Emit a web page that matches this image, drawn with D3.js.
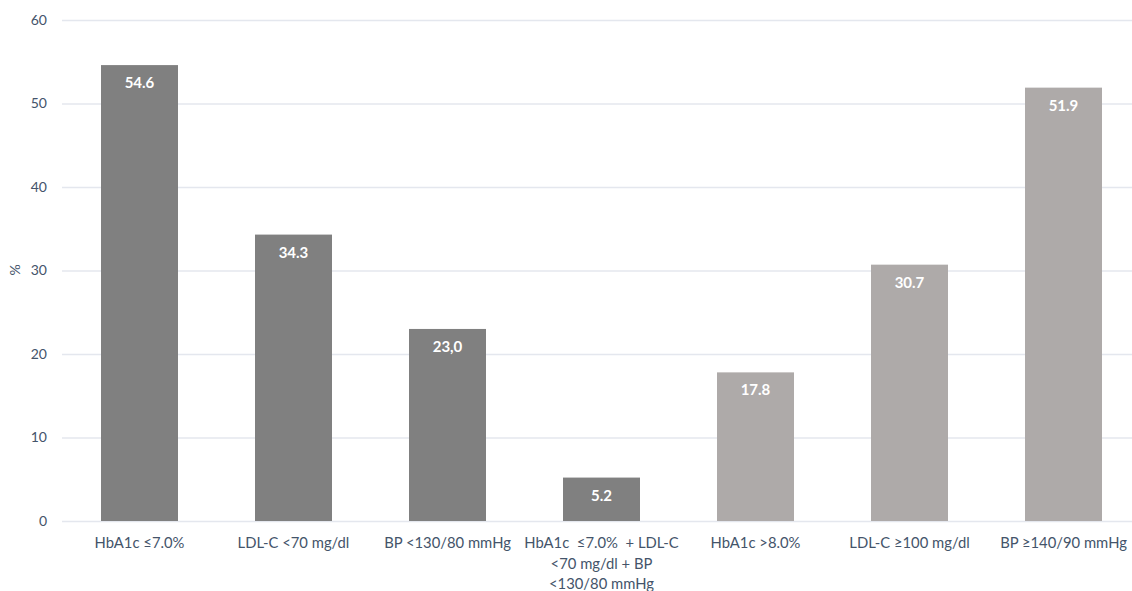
<!DOCTYPE html>
<html><head><meta charset="utf-8">
<script src="https://cdn.jsdelivr.net/npm/d3@7"></script>
<style>body{margin:0;background:#fff;}svg{display:block;font-family:Lato,"Open Sans",sans-serif;}</style>
</head><body><svg id="c" width="1132" height="591"></svg>
<script>
const categories = [
  ["HbA1c ≤7.0%"],
  ["LDL-C <70 mg/dl"],
  ["BP <130/80 mmHg"],
  ["HbA1c  ≤7.0%  + LDL-C", "<70 mg/dl + BP", "<130/80 mmHg"],
  ["HbA1c >8.0%"],
  ["LDL-C ≥100 mg/dl"],
  ["BP ≥140/90 mmHg"]
];
const values = [54.6, 34.3, 23.0, 5.2, 17.8, 30.7, 51.9];
const valueLabels = ["54.6", "34.3", "23,0", "5.2", "17.8", "30.7", "51.9"];
const groups = ["target", "target", "target", "target", "poor", "poor", "poor"];
const yTicks = [0, 10, 20, 30, 40, 50, 60];
const yTitle = "%";

const colors = {target: "#808080", poor: "#aeaaa9"};
const svg = d3.select("#c");
const x = d3.scaleBand().domain(d3.range(categories.length)).range([62.5, 1140.5]).paddingInner(0.5).paddingOuter(0.25);
const y = d3.scaleLinear().domain([0, 60]).range([521, 20]);

// gridlines
svg.append("g").selectAll("line").data(yTicks).join("line")
  .attr("x1", 62).attr("x2", 1132)
  .attr("y1", d => y(d) + 0.5).attr("y2", d => y(d) + 0.5)
  .attr("stroke", "#e4e7ee").attr("stroke-width", 1.3);

// y axis labels
const yAxis = svg.append("g").attr("transform", "translate(47,0)")
  .call(d3.axisLeft(y).tickValues(yTicks).tickSize(0).tickPadding(0));
yAxis.select(".domain").remove();
yAxis.selectAll("text").attr("fill", "#44546a").attr("font-size", 14)
  .attr("font-family", "Lato, 'Open Sans', sans-serif");

svg.append("text").attr("transform", "translate(20,270) rotate(-90)")
  .attr("text-anchor", "middle").attr("fill", "#44546a").attr("font-size", 14).text(yTitle);

// bars
svg.append("g").selectAll("rect").data(values).join("rect")
  .attr("x", (d, i) => x(i)).attr("width", x.bandwidth())
  .attr("y", d => y(d)).attr("height", d => y(0) - y(d))
  .attr("fill", (d, i) => colors[groups[i]]);

// value labels
svg.append("g").selectAll("text").data(values).join("text")
  .attr("x", (d, i) => x(i) + x.bandwidth() / 2)
  .attr("y", d => y(d) + 23)
  .attr("text-anchor", "middle").attr("fill", "#fff")
  .attr("font-weight", "bold").attr("font-size", 15)
  .text((d, i) => valueLabels[i]);

// category labels
const cg = svg.append("g").selectAll("text").data(categories).join("text")
  .attr("x", (d, i) => x(i) + x.bandwidth() / 2)
  .attr("y", 548)
  .attr("text-anchor", "middle").attr("fill", "#44546a").attr("font-size", 14.8);
cg.selectAll("tspan").data(d => d).join("tspan")
  .attr("x", function() { return this.parentNode.getAttribute("x"); })
  .attr("dy", (d, j) => j === 0 ? 0 : 20.5)
  .style("white-space", "pre")
  .text(d => d);
</script></body></html>
